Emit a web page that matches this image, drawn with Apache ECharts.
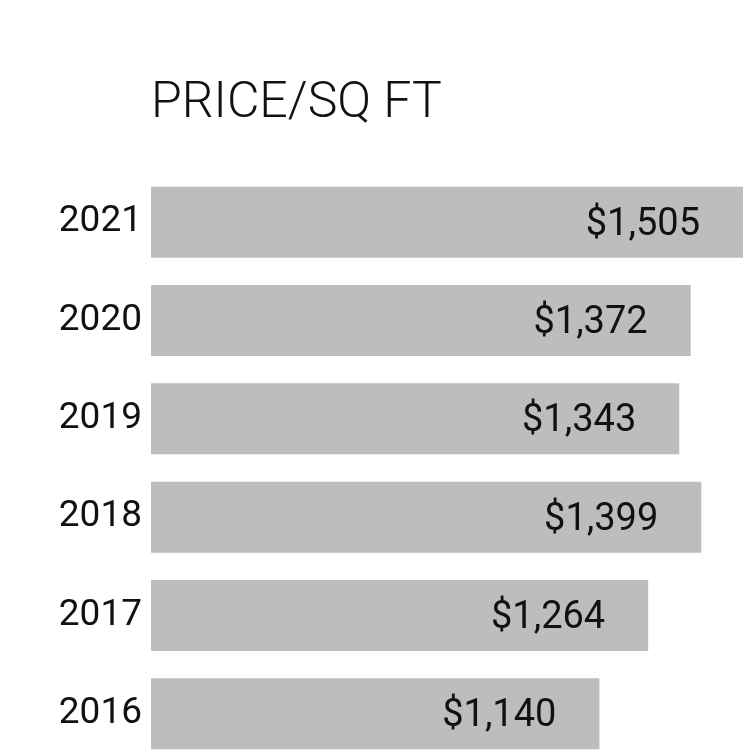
<!DOCTYPE html>
<html>
<head>
<meta charset="utf-8">
<script src="https://cdn.jsdelivr.net/npm/echarts@6/dist/echarts.min.js"></script>
<style>html,body{margin:0;padding:0;background:#fff;overflow:hidden;}#c{width:750px;height:766px;}</style>
</head>
<body>
<div id="c"></div>
<script>
const years = ['2021', '2020', '2019', '2018', '2017', '2016'];
const pricePerSqFt = [1505, 1372, 1343, 1399, 1264, 1140];
const titleText = 'PRICE/SQ FT';

const chart = echarts.init(document.getElementById('c'), null, {renderer: 'canvas'});
chart.setOption({
  backgroundColor: '#ffffff',
  animation: false,
  title: {
    text: titleText,
    left: 146,
    top: 74,
    textStyle: {fontFamily: 'Roboto', fontWeight: 300, fontSize: 50, color: '#111111'}
  },
  grid: {left: 151, top: 173, width: 592, height: 590, containLabel: false},
  xAxis: {
    type: 'value', min: 0, max: 1505, show: false
  },
  yAxis: {
    type: 'category', data: years, inverse: true,
    axisLine: {show: false}, axisTick: {show: false}, splitLine: {show: false},
    axisLabel: {margin: 9, fontFamily: 'Roboto', fontWeight: 400, fontSize: 37, color: '#111111'}
  },
  series: [{
    type: 'bar',
    data: pricePerSqFt,
    barWidth: 71,
    itemStyle: {color: '#bcbdbf'},
    label: {
      show: true, position: 'insideRight', distance: 43, offset: [0, 3],
      fontFamily: 'Roboto', fontWeight: 400, fontSize: 38, color: '#111111',
      formatter: p => '$' + p.value.toLocaleString('en-US')
    }
  }]
});
</script>
</body>
</html>
